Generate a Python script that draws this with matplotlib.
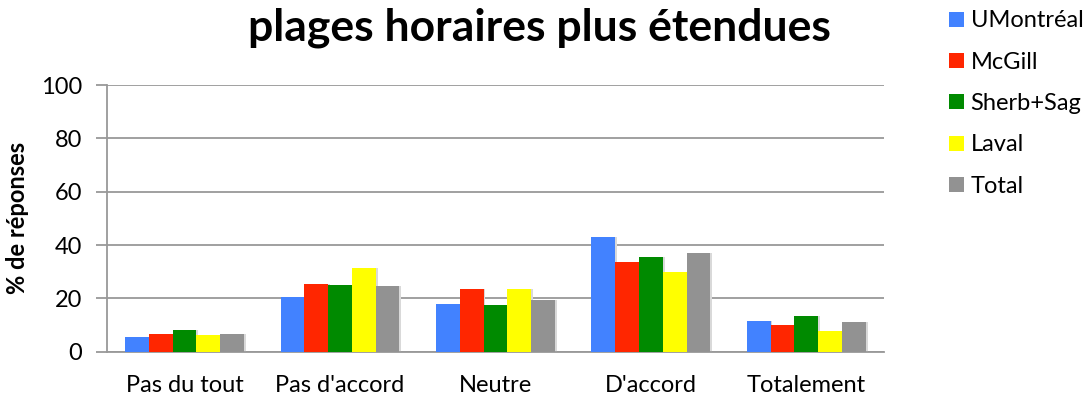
"""
Grouped bar chart: agreement with extended opening hours, by university.
"""

import numpy as np
import matplotlib.pyplot as plt

plt.rcParams['font.family'] = ['Lato', 'DejaVu Sans']

categories = ["Pas du tout", "Pas d'accord", "Neutre", "D'accord", "Totalement"]
series_names = ["UMontréal", "McGill", "Sherb+Sag", "Laval", "Total"]
umontreal = [5.6, 20.5, 17.9, 43.1, 11.5]
mcgill = [6.6, 25.4, 23.6, 33.7, 10.0]
sherb_sag = [8.0, 25.0, 17.4, 35.4, 13.3]
laval = [6.2, 31.5, 23.4, 30.0, 7.9]
total = [6.6, 24.7, 19.6, 37.0, 11.1]
colors = ["#4282FF", "#FF2600", "#008A00", "#FFFF00", "#929292"]

series = [umontreal, mcgill, sherb_sag, laval, total]

fig = plt.figure(figsize=(10.9, 4.03), dpi=100)
ax = fig.add_axes([0.098, 0.127, 0.713, 0.662])

x = np.arange(len(categories))
width = 0.153
for i, (vals, name, col) in enumerate(zip(series, series_names, colors)):
    offs = (i - 2) * width
    # soft shadow behind each bar
    ax.bar(x + offs + 0.012, vals, width, color="#d9d9d9", zorder=2)
    ax.bar(x + offs, vals, width, color=col, label=name, zorder=3)

ax.set_xlim(-0.5, len(categories) - 0.5)
ax.set_ylim(0, 100)
ax.set_yticks(range(0, 101, 20))
ax.set_xticks(x)
ax.set_xticklabels(categories)
ax.grid(axis='y', color="#999999", linewidth=1.3, zorder=0)
ax.set_axisbelow(True)

for s in ["top", "right"]:
    ax.spines[s].set_visible(False)
ax.spines["left"].set_color("#999999")
ax.spines["left"].set_linewidth(1.3)
ax.spines["bottom"].set_color("#999999")
ax.spines["bottom"].set_linewidth(1.3)
ax.tick_params(axis='y', length=8, width=1.3, color="#999999", labelsize=17, pad=10)
ax.tick_params(axis='x', length=0, labelsize=17, pad=17)

ax.set_ylabel("% de réponses", fontsize=17, fontweight="bold", labelpad=8)

fig.text(0.495, 0.93, "plages horaires plus étendues", ha="center", va="center",
         fontsize=32, fontweight="bold")

ax.legend(loc="upper left", bbox_to_anchor=(1.072, 1.315), frameon=False,
          fontsize=17, handlelength=0.6, handleheight=0.6, handletextpad=0.3,
          labelspacing=0.86, borderaxespad=0)

plt.savefig("out.png", dpi=100)
